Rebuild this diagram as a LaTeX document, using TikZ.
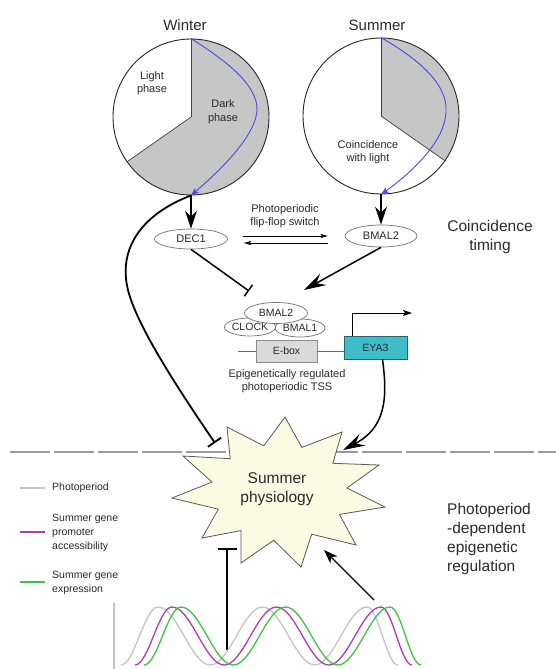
\documentclass[tikz,border=0pt]{standalone}
\usepackage{fontspec}
\setmainfont{Liberation Sans}
\usetikzlibrary{arrows.meta,shapes.geometric}

\definecolor{txt}{HTML}{2A2A2A}
\definecolor{piegray}{HTML}{C6C6C6}
\definecolor{clockblue}{HTML}{4A4AE0}
\definecolor{eboxfill}{HTML}{DADADA}
\definecolor{eyafill}{HTML}{3DBDC8}
\definecolor{starfill}{HTML}{FBFAE2}
\definecolor{wavegray}{HTML}{C4C4C4}
\definecolor{wavemag}{HTML}{B03DB0}
\definecolor{wavegreen}{HTML}{3EC43E}
\definecolor{divider}{HTML}{9C9C9C}

\begin{document}
\begin{tikzpicture}[x=1pt,y=-1pt,
  small/.style={font=\fontsize{11}{13.5}\selectfont, text=txt, align=center, inner sep=0pt},
  big/.style={font=\fontsize{15.5}{19}\selectfont, text=txt, align=center, inner sep=0pt},
  season/.style={font=\fontsize{15}{18}\selectfont, text=txt, inner sep=0pt},
  legend/.style={font=\fontsize{10.5}{14}\selectfont, text=txt, align=left, anchor=west, inner sep=0pt},
  prot/.style={ellipse, draw=black!55, fill=white, inner sep=0pt, line width=0.7pt,
               font=\fontsize{10.5}{12}\selectfont, text=txt},
  dial/.style={circle, draw=black!85, line width=0.9pt, minimum size=156pt, inner sep=0pt},
  radius line/.style={draw=black!75, line width=0.7pt},
  bluearc/.style={draw=clockblue, line width=0.9pt, -{Stealth[length=8pt,width=6pt,inset=2pt]}},
  bigarrow/.style={line width=1.5pt, -{Stealth[length=18pt,width=12pt,inset=6pt]}},
  longarrow/.style={line width=1.5pt, -{Stealth[length=22pt,width=13pt,inset=8pt]}},
  medarrow/.style={line width=1.4pt, -{Stealth[length=14pt,width=10pt,inset=4pt]}},
  thinarrow/.style={line width=0.8pt, -{Stealth[length=7pt,width=4pt,inset=1pt]}},
  inhib/.style={line width=1.5pt, -{Bar[width=14pt,line width=1.5pt]}},
  inhibthick/.style={line width=1.8pt, -{Bar[width=16pt,line width=1.8pt]}},
  inhibbottom/.style={line width=2.4pt, -{Bar[width=19pt,line width=2.2pt]}},
  dna/.style={draw=black!60, line width=0.9pt},
  wave/.style={line width=1.3pt},
]
\useasboundingbox (0,0) rectangle (556,669);
\fill[white] (0,0) rectangle (556,669);

% divider between the two regulation levels
\draw[divider, line width=1.3pt, dash pattern=on 40pt off 4pt] (10,452) -- (556,452);

% ---- winter dial ----
\fill[white] (191,117) circle[radius=78pt];
\begin{scope}
  \clip (191,117) circle[radius=78pt];
  \fill[piegray] (191,117) -- (191,0) -- (330,0) -- (330,300) -- (0,300) -- (0,251) -- cycle;
\end{scope}
\node[dial] (winter) at (191,117) {};
\draw[radius line] (winter.center) -- (winter.north);
\draw[radius line] (winter.center) -- (winter.215);
\draw[bluearc] (winter.north) .. controls (225,60) and (258,85) .. (257,110)
                              .. controls (256,132) and (230,162) .. (winter.south);

% ---- summer dial ----
\fill[white] (381,116) circle[radius=78pt];
\begin{scope}
  \clip (381,116) circle[radius=78pt];
  \fill[piegray] (381,116) -- (381,0) -- (520,0) -- (520,213.4) -- cycle;
\end{scope}
\node[dial] (summer) at (381,116) {};
\draw[radius line] (summer.center) -- (summer.north);
\draw[radius line] (summer.center) -- (summer.-35);
\draw[bluearc] (summer.north) .. controls (420,60) and (448,85) .. (446,112)
                              .. controls (445,140) and (415,170) .. (summer.south);

% dial labels
\node[season] (wtitle) at (185,25) {Winter};
\node[season] (stitle) at (377,25) {Summer};
\node[small] (light) at (152,83) {Light\\phase};
\node[small] (dark) at (223,111.5) {Dark\\phase};
\node[small] (coincl) at (368,152) {Coincidence\\with light};

% ---- coincidence timing switch ----
\node[prot, font=\fontsize{11}{13}\selectfont, minimum width=73pt, minimum height=20pt] (DEC1) at (191,239) {DEC1};
\node[prot, font=\fontsize{11}{13}\selectfont, minimum width=72pt, minimum height=22pt] (BMAL2a) at (381,236) {BMAL2};
\draw[bigarrow] (winter.south) -- (DEC1.north);
\draw[bigarrow] (summer.south) -- (BMAL2a.north);
\draw[thinarrow] ([xshift=15pt,yshift=3pt]DEC1.east) -- ([xshift=-17pt]BMAL2a.west);
\draw[thinarrow] ([xshift=-17pt,yshift=-7pt]BMAL2a.west) -- ([xshift=16pt,yshift=-4pt]DEC1.east);
\node[small] (flipflop) at (285,216) {Photoperiodic\\flip-flop switch};
\node[big] (coinct) at (490,237) {Coincidence\\timing};

% ---- promoter complex ----
\node[prot, minimum width=50pt, minimum height=18pt] (BMAL1) at (300,328) {BMAL1};
\node[prot, minimum width=50pt, minimum height=18pt] (CLOCK) at (250,327) {CLOCK};
\node[prot, minimum width=63pt, minimum height=21pt] (BMAL2b) at (276,313) {BMAL2};
\coordinate (inhEnd) at (249,291);
\coordinate (actEnd) at (304,290);
\draw[inhib] (DEC1.south) -- (inhEnd);
\draw[longarrow] (BMAL2a.south) -- (actEnd);

\coordinate (dnaL) at (238,351);
\node[rectangle, draw=black!45, fill=eboxfill, line width=0.7pt, minimum width=61pt, minimum height=22pt,
      inner sep=0pt, font=\fontsize{10.5}{12}\selectfont, text=txt] (ebox) at (286.5,351) {E-box};
\node[rectangle, draw=eyafill!55!black, fill=eyafill, line width=0.7pt, minimum width=63pt, minimum height=23pt,
      inner sep=0pt, font=\fontsize{10.5}{12}\selectfont, text=txt] (eya) at (375.5,347.5) {EYA3};
\draw[dna] (dnaL) -- (ebox.west);
\draw[dna] (ebox.east) -- (ebox.east -| eya.west);
\coordinate (tssEnd) at (412,313);
\draw[line width=0.9pt, -{Stealth[length=9pt,width=6pt,inset=2pt]}] ([xshift=-23.5pt]eya.north) |- (tssEnd);
\node[small, font=\fontsize{11}{12.5}\selectfont] (tsslabel) at (287,381) {Epigenetically regulated\\photoperiodic TSS};

% ---- summer physiology ----
\coordinate (starL) at (215,443);
\coordinate (starR) at (343,450);
\coordinate (starB) at (227,548);
\coordinate (starBR) at (324,550);
\coordinate (waveL) at (227,650);
\coordinate (waveR) at (374,600);

\draw[inhibthick] (winter.south) .. controls (140,215) and (118,250) .. (128,290)
                                 .. controls (135.5,320) and (165,370) .. (starL);
\draw[longarrow] ([xshift=7pt]eya.south) .. controls (388,400) and (385,428) .. (starR);

\draw[draw=black!65, fill=starfill, line width=0.8pt, line join=miter]
  (285,417) -- (301.8,447.4) -- (342,432) -- (332.8,463.3) -- (379,465) -- (347,488)
  -- (385,507) -- (339.4,514.4) -- (356,545) -- (311.7,534.2) -- (301,567) -- (273.7,540.2)
  -- (241,563) -- (241,530.6) -- (202,538) -- (218.3,509.2) -- (172,498) -- (212,482.1)
  -- (183,456) -- (230.2,458.7) -- (227,427) -- (263.8,445.8) -- cycle;
\node[big] (phys) at (277,489) {Summer\\physiology};

\draw[inhibbottom] (waveL) -- (starB);
\draw[medarrow] (waveR) -- (starBR);

\node[big, align=left, anchor=west] (epi) at (447,538.5) {Photoperiod\\-dependent\\epigenetic\\regulation};

% ---- legend ----
\draw[wavegray, wave] (20,488) -- (45,488);
\draw[wavemag, wave] (20,532) -- (45,532);
\draw[wavegreen, wave] (20,582) -- (45,582);
\node[legend] (lg1) at (52,488) {Photoperiod};
\node[legend] (lg2) at (52,533) {Summer gene\\promoter\\accessibility};
\node[legend] (lg3) at (52,583) {Summer gene\\expression};

% ---- seasonal rhythms ----
\draw[wavegray, line width=1.1pt] (114,603) -- (114,669);
\begin{scope}
  \clip (0,0) rectangle (556,669);
  \foreach \shift/\col in {0/wavegray, 14/wavemag, 23/wavegreen}{
    \begin{scope}[xshift=\shift pt]
      \draw[\col, wave] (121,665) cos (139.5,636) sin (158,607) cos (184.1,636) sin (210.25,665)
        cos (236.4,636) sin (262.5,607) cos (288.6,636) sin (314.75,665)
        cos (340.9,636) sin (367,607) cos (382.5,636) sin (398,665);
    \end{scope}
  }
\end{scope}
\end{tikzpicture}
\end{document}
